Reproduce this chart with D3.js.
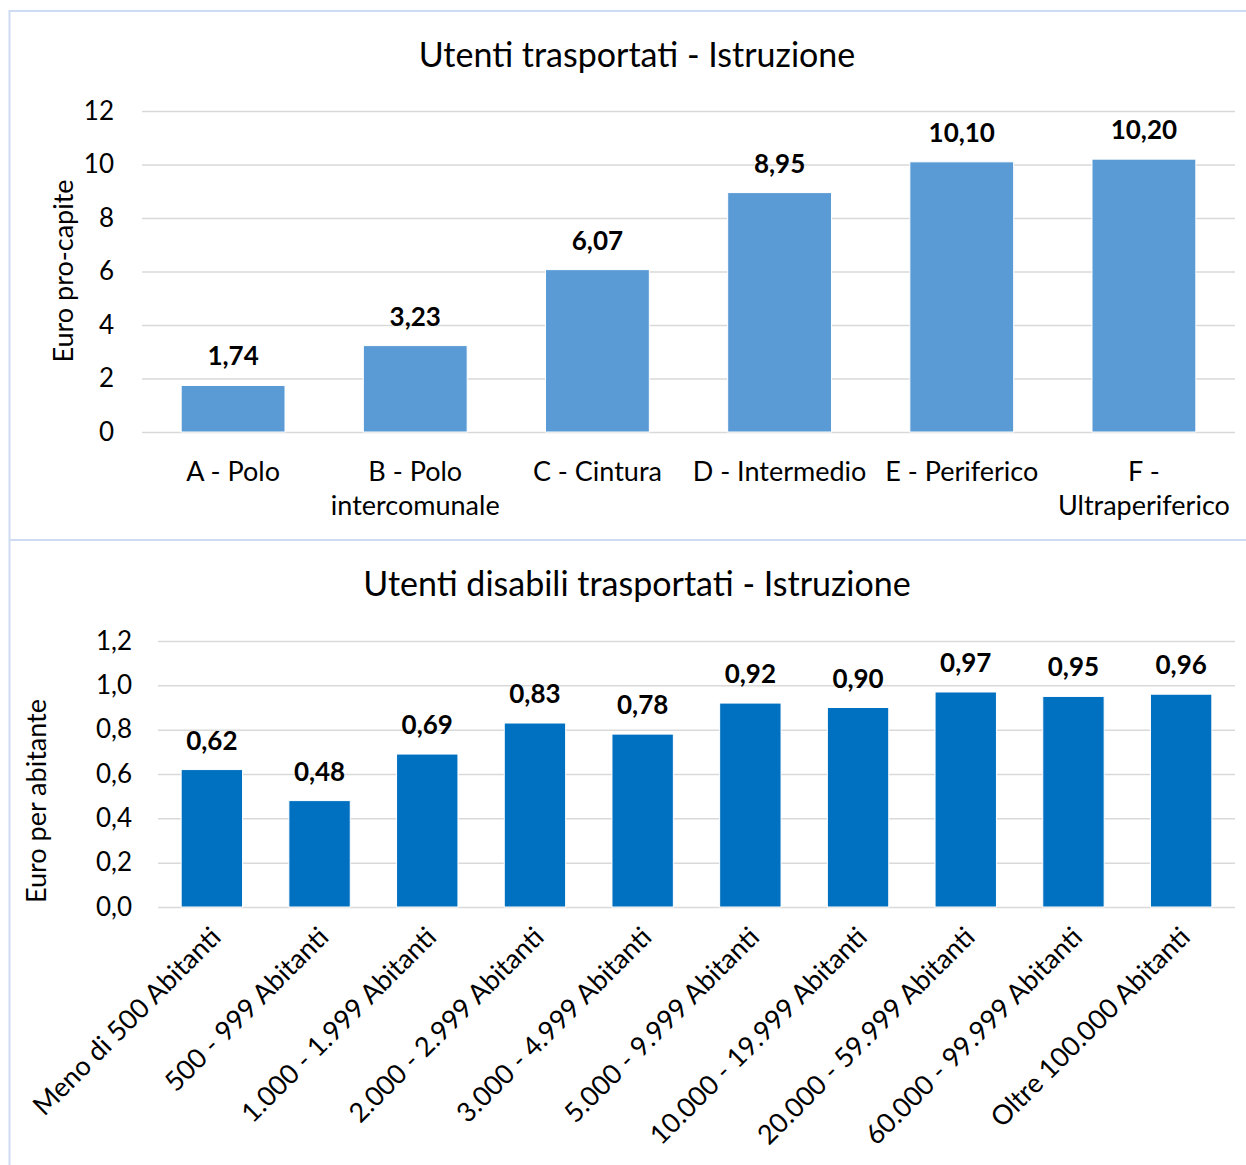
<!DOCTYPE html>
<html lang="it">
<head>
    <meta charset="UTF-8">
    <title>Utenti trasportati - Istruzione</title>
    <script src="https://d3js.org/d3.v7.min.js"></script>
    <style>
        body { margin: 0; background: #fff; }
        text { font-family: Lato, "Open Sans", sans-serif; fill: #000; }
        .grid line { stroke: #d9d9d9; stroke-width: 1.5; }
        .grid path { display: none; }
        .axis path, .axis line { display: none; }
        .label { font-weight: bold; }
    </style>
</head>
<body>
<script>
    const width  = 1246;
    const height = 1165;

    // chart 1
    const zone      = ["A - Polo", "B - Polo\nintercomunale", "C - Cintura", "D - Intermedio", "E - Periferico", "F -\nUltraperiferico"];
    const zoneValue = [1.74, 3.23, 6.07, 8.95, 10.10, 10.20];
    const zoneTicks = [0, 2, 4, 6, 8, 10, 12];

    // chart 2
    const classe      = ["Meno di 500 Abitanti", "500 - 999 Abitanti", "1.000 - 1.999 Abitanti", "2.000 - 2.999 Abitanti",
                         "3.000 - 4.999 Abitanti", "5.000 - 9.999 Abitanti", "10.000 - 19.999 Abitanti",
                         "20.000 - 59.999 Abitanti", "60.000 - 99.999 Abitanti", "Oltre 100.000 Abitanti"];
    const classeValue = [0.62, 0.48, 0.69, 0.83, 0.78, 0.92, 0.90, 0.97, 0.95, 0.96];
    const classeTicks = [0, 0.2, 0.4, 0.6, 0.8, 1.0, 1.2];

    const comma = f => v => d3.format(f)(v).replace(".", ",");

    const svg = d3.select("body").append("svg").attr("width", width).attr("height", height);

    // panel borders
    svg.append("path")
       .attr("d", "M1250,11 H9.5 V1170 M9.5,540 H1250")
       .attr("fill", "none")
       .attr("stroke", "#cddcf2")
       .attr("stroke-width", 2);

    function chart(o) {
        const x = d3.scaleBand().domain(o.cats).range([o.left, o.right]).paddingInner(o.pad).paddingOuter(o.pad / 2);
        const y = d3.scaleLinear().domain([0, d3.max(o.ticks)]).range([o.bottom, o.top]);

        svg.append("g").attr("class", "grid")
           .call(d3.axisLeft(y).tickValues(o.ticks).tickSize(-(o.right - o.left)).tickFormat(""))
           .attr("transform", "translate(" + [o.left, 0] + ")");

        svg.append("g").attr("class", "axis")
           .attr("transform", "translate(" + [o.left - o.tickGap, 0] + ")")
           .call(d3.axisLeft(y).tickValues(o.ticks).tickFormat(o.tickFmt).tickSize(0).tickPadding(0))
           .selectAll("text")
           .style("font-size", "26px")
           .style("font-family", "Lato, sans-serif");

        svg.selectAll(null).data(o.vals).enter().append("rect")
           .attr("x", (d, i) => x(o.cats[i]))
           .attr("width", x.bandwidth())
           .attr("y", d => y(d))
           .attr("height", d => y(0) - y(d))
           .attr("fill", o.color)
           .attr("stroke", "#fff")
           .attr("stroke-width", 1);

        svg.selectAll(null).data(o.vals).enter().append("text")
           .attr("class", "label")
           .attr("x", (d, i) => x(o.cats[i]) + x.bandwidth() / 2)
           .attr("y", d => y(d) - 20)
           .attr("text-anchor", "middle")
           .style("font-size", "26px")
           .text(d => comma(o.valFmt)(d));

        svg.append("text")
           .attr("x", 637).attr("y", o.titleY)
           .attr("text-anchor", "middle")
           .style("font-size", "34px")
           .text(o.title);

        svg.append("text")
           .attr("transform", "translate(" + [o.yTitleX, o.yTitleY] + ") rotate(-90)")
           .attr("text-anchor", "middle")
           .style("font-size", "27px")
           .text(o.yTitle);

        return x;
    }

    const x1 = chart({
        cats: zone, vals: zoneValue, ticks: zoneTicks, color: "#5b9bd5",
        left: 142, right: 1235, top: 111, bottom: 432, pad: 0.43, tickGap: 28,
        tickFmt: d3.format("d"), valFmt: ".2f",
        title: "Utenti trasportati - Istruzione", titleY: 67,
        yTitle: "Euro pro-capite", yTitleX: 73, yTitleY: 271
    });

    svg.selectAll(null).data(zone).enter().append("text")
       .attr("x", d => x1(d) + x1.bandwidth() / 2)
       .attr("y", 481)
       .attr("text-anchor", "middle")
       .style("font-size", "27px")
       .selectAll("tspan").data(d => d.split("\n")).enter().append("tspan")
       .attr("x", function () { return this.parentNode.getAttribute("x"); })
       .attr("dy", (d, i) => i ? 34 : 0)
       .text(d => d);

    const x2 = chart({
        cats: classe, vals: classeValue, ticks: classeTicks, color: "#0070c0",
        left: 158, right: 1235, top: 641, bottom: 907, pad: 0.43, tickGap: 26,
        tickFmt: comma(".1f"), valFmt: ".2f",
        title: "Utenti disabili trasportati - Istruzione", titleY: 596,
        yTitle: "Euro per abitante", yTitleX: 46, yTitleY: 801
    });

    svg.selectAll(null).data(classe).enter().append("text")
       .attr("transform", d => "translate(" + [x2(d) + x2.bandwidth() / 2 + 4, 932] + ") rotate(-45)")
       .attr("text-anchor", "end")
       .attr("dy", "0.35em")
       .style("font-size", "27px")
       .text(d => d);
</script>
</body>
</html>
